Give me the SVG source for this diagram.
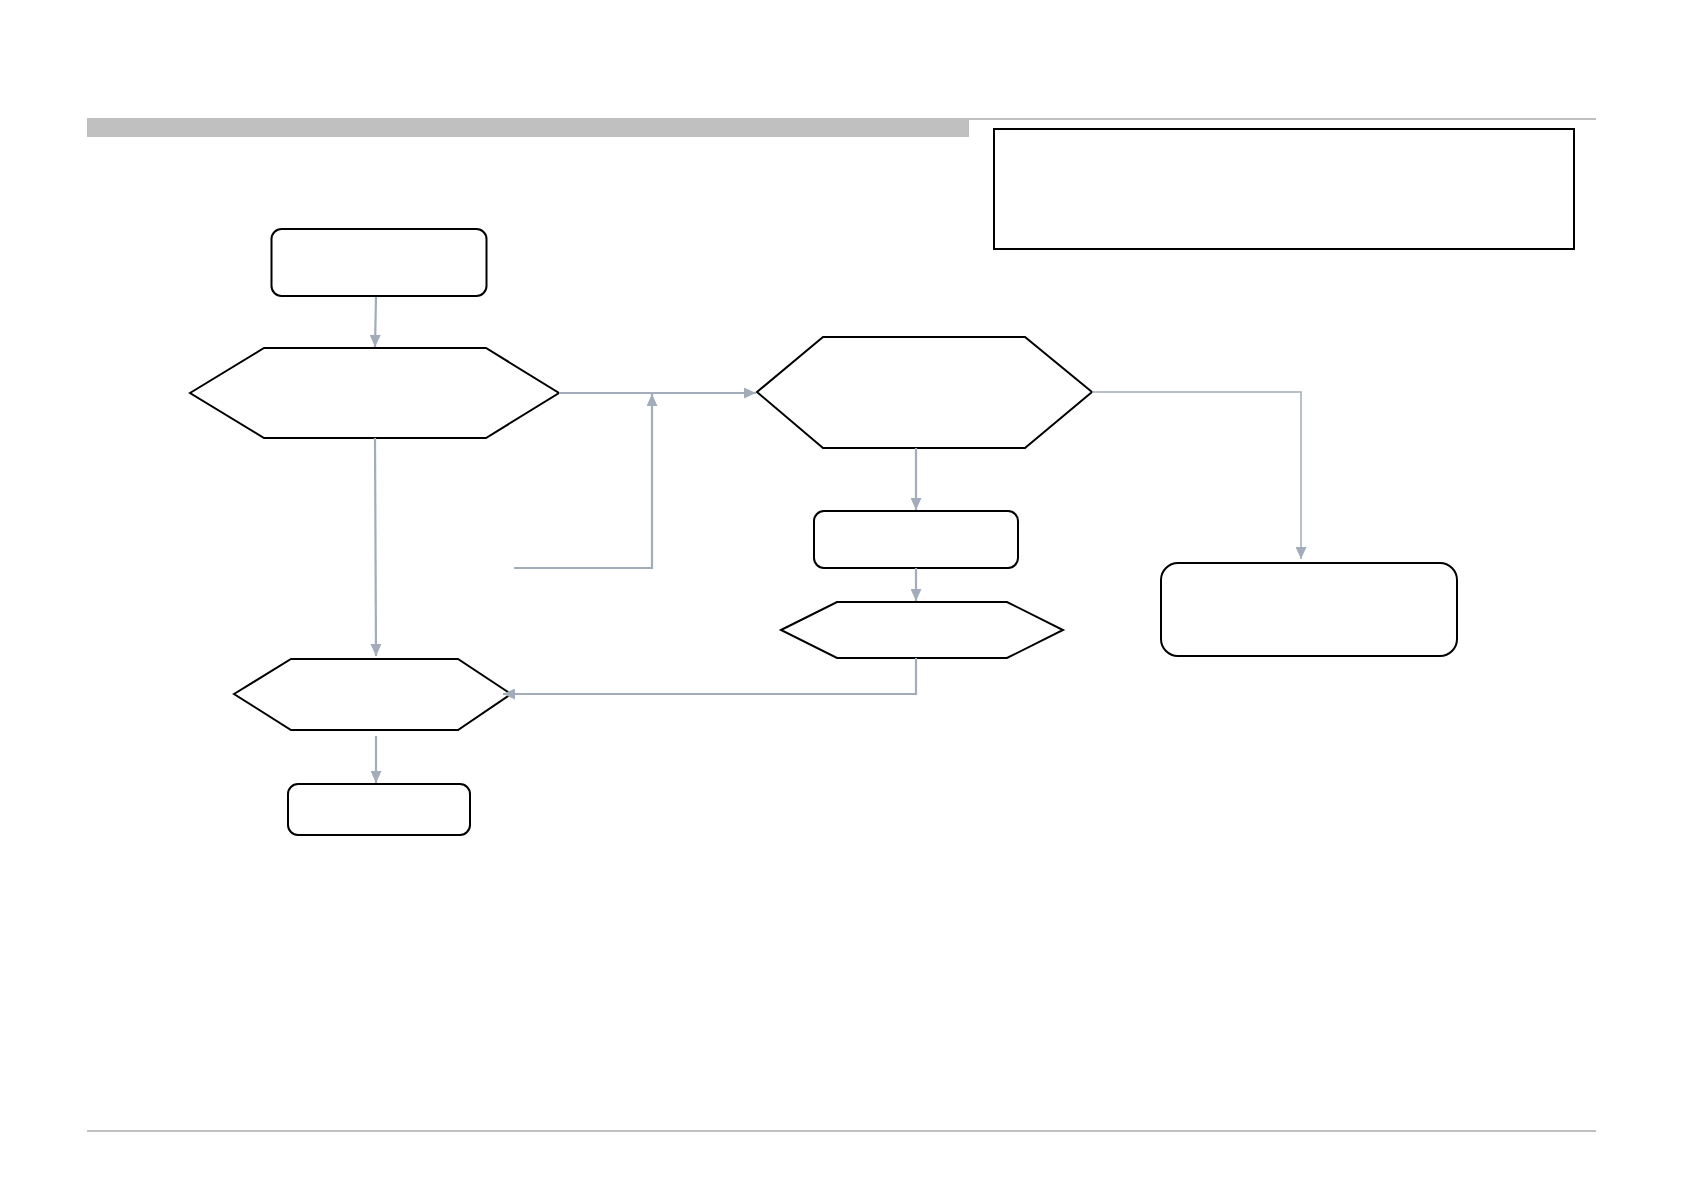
<svg xmlns="http://www.w3.org/2000/svg" width="1683" height="1191" viewBox="0 0 1683 1191">
<defs>
<style>
.node{fill:#ffffff;stroke:#000000;stroke-width:2;stroke-linejoin:miter}
.conn{fill:none;stroke:#a2acba;stroke-width:2.2}
.thin{fill:none;stroke:#a2acba;stroke-width:1.5}
.rule{stroke:#c0c0c0;fill:none}
</style>
<marker id="arr" viewBox="0 0 12 11" refX="12" refY="5.5" markerWidth="12" markerHeight="11" markerUnits="userSpaceOnUse" orient="auto">
<path d="M0,0 L12,5.5 L0,11 z" fill="#a2acba"/>
</marker>
</defs>
<rect width="1683" height="1191" fill="#ffffff"/>
<g id="page-frame">
<rect x="87" y="118" width="882" height="19" fill="#c0c0c0"/>
<line class="rule" x1="969" y1="119" x2="1596" y2="119" stroke-width="2"/>
<line class="rule" x1="87" y1="1131" x2="1596" y2="1131" stroke-width="2"/>
</g>
<g id="note-box"><rect class="node" x="994" y="129" width="580" height="120" stroke-width="2.4"/></g>
<g id="start"><rect class="node" x="271.5" y="229" width="215" height="67" rx="10"/></g>
<g id="decision1"><polygon class="node" points="190,393 264,348 486,348 559,393 486,438 264,438"/></g>
<g id="decision2"><polygon class="node" points="757,392 823,337 1025,337 1092,392 1025,448 823,448"/></g>
<g id="process1"><rect class="node" x="814" y="511" width="204" height="57" rx="10"/></g>
<g id="decision3"><polygon class="node" points="781,630 837,602 1007,602 1063,630 1007,658 837,658"/></g>
<g id="decision4"><polygon class="node" points="234,694 291,659 458,659 511,694 458,730 291,730"/></g>
<g id="end"><rect class="node" x="288" y="784" width="182" height="51" rx="10"/></g>
<g id="result"><rect class="node" x="1161" y="563" width="296" height="93" rx="17"/></g>
<g id="connectors">
<path class="conn" d="M376,297 L375,347" marker-end="url(#arr)"/>
<path class="conn" d="M559,393 L756,393" marker-end="url(#arr)"/>
<path class="conn" d="M514,568 L652,568 L652,394" marker-end="url(#arr)"/>
<path class="conn" d="M375,438 L376,656" marker-end="url(#arr)"/>
<path class="conn" d="M916,448 L916,510" marker-end="url(#arr)"/>
<path class="conn" d="M916,568 L916,601" marker-end="url(#arr)"/>
<path class="conn" d="M916,658 L916,694 L503,694" marker-end="url(#arr)"/>
<path class="conn" d="M376,736 L376,783" marker-end="url(#arr)"/>
<path class="thin" d="M1092,392 L1301,392 L1301,559" marker-end="url(#arr)"/>
</g>
</svg>
